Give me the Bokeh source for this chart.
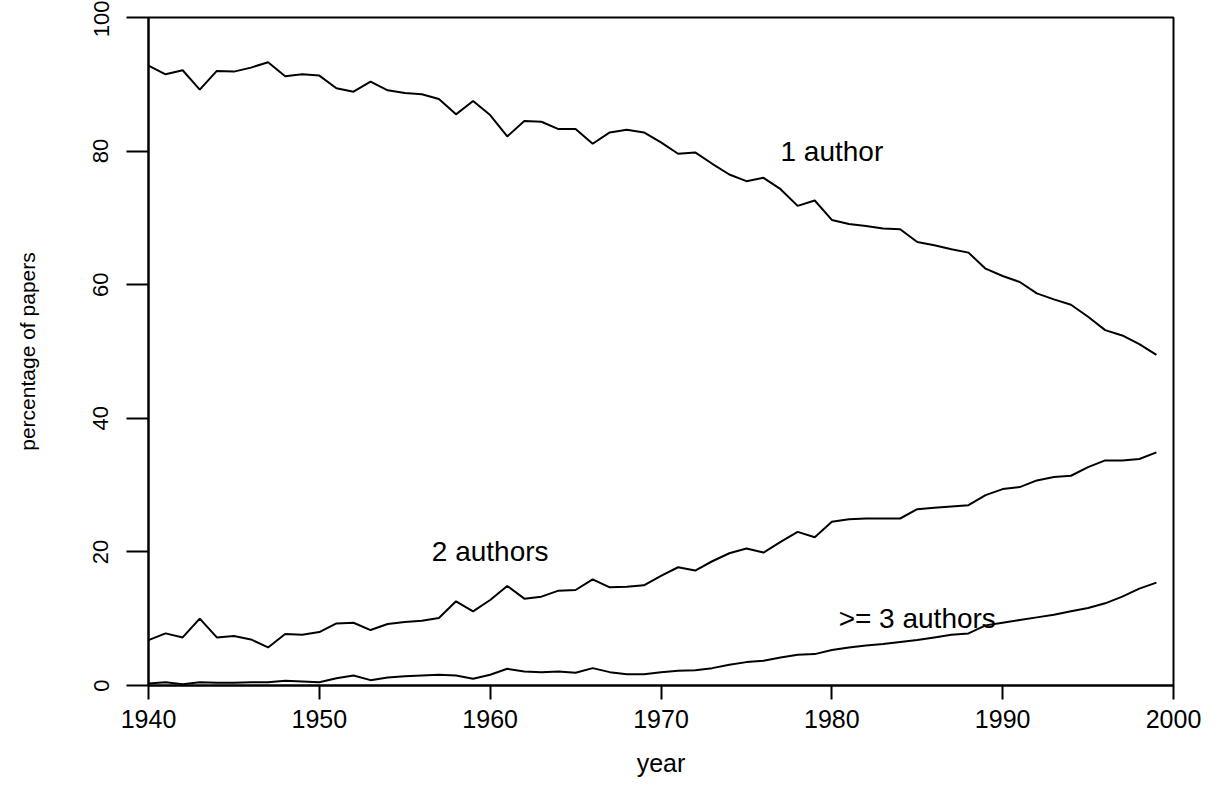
from bokeh.plotting import figure
from bokeh.models import FixedTicker, Range1d, ColumnDataSource
from bokeh.embed import file_html
from bokeh.resources import INLINE
from bokeh.core.properties import value

years = list(range(1940, 2000))
one_author = [92.8, 91.5, 92.1, 89.2, 92.0, 91.9, 92.5, 93.3, 91.2, 91.5,
              91.3, 89.4, 88.9, 90.4, 89.1, 88.7, 88.5, 87.8, 85.5, 87.5,
              85.4, 82.2, 84.5, 84.4, 83.3, 83.3, 81.1, 82.8, 83.2, 82.8,
              81.3, 79.6, 79.8, 78.1, 76.5, 75.5, 76.0, 74.3, 71.8, 72.6,
              69.7, 69.1, 68.8, 68.4, 68.3, 66.4, 65.9, 65.3, 64.8, 62.4,
              61.3, 60.4, 58.7, 57.8, 57.0, 55.2, 53.2, 52.4, 51.1, 49.5]
two_authors = [6.8, 7.8, 7.2, 10.0, 7.2, 7.4, 6.9, 5.7, 7.7, 7.6,
               8.0, 9.3, 9.4, 8.3, 9.2, 9.5, 9.7, 10.1, 12.6, 11.1,
               12.8, 14.9, 13.0, 13.3, 14.2, 14.3, 15.9, 14.7, 14.8, 15.0,
               16.4, 17.7, 17.2, 18.6, 19.8, 20.5, 19.9, 21.5, 23.0, 22.2,
               24.5, 24.9, 25.0, 25.0, 25.0, 26.4, 26.6, 26.8, 27.0, 28.5,
               29.4, 29.7, 30.7, 31.2, 31.4, 32.7, 33.7, 33.7, 33.9, 34.9]
three_plus = [0.3, 0.5, 0.2, 0.5, 0.4, 0.4, 0.5, 0.5, 0.7, 0.6,
              0.5, 1.1, 1.5, 0.8, 1.2, 1.4, 1.5, 1.6, 1.5, 1.0,
              1.6, 2.5, 2.1, 2.0, 2.1, 1.9, 2.6, 2.0, 1.7, 1.7,
              2.0, 2.2, 2.3, 2.6, 3.1, 3.5, 3.7, 4.2, 4.6, 4.7,
              5.3, 5.7, 6.0, 6.2, 6.5, 6.8, 7.2, 7.6, 7.8, 9.0,
              9.4, 9.8, 10.2, 10.6, 11.1, 11.6, 12.3, 13.3, 14.5, 15.4]

label_text = ["1 author", "2 authors", ">= 3 authors"]
label_x = [1980, 1960, 1985]
label_y = [80, 20, 10]

x_ticks = [1940, 1950, 1960, 1970, 1980, 1990, 2000]
y_ticks = [0, 20, 40, 60, 80, 100]

FONT = "Liberation Sans"

p = figure(width=1203, height=779, output_backend="svg", toolbar_location=None,
           x_range=Range1d(1940, 2000), y_range=Range1d(0, 100),
           min_border_left=148, min_border_right=30,
           min_border_top=17, min_border_bottom=93)
p.background_fill_color = "white"
p.border_fill_color = "white"
p.outline_line_color = "black"
p.outline_line_width = 2
p.outline_line_alpha = 1.0
p.grid.visible = False

for ax in (p.xaxis[0], p.yaxis[0]):
    ax.axis_line_color = "black"
    ax.axis_line_width = 2
    ax.major_tick_line_color = "black"
    ax.major_tick_line_width = 2
    ax.major_tick_in = 0
    ax.minor_tick_line_color = None
    ax.major_label_text_color = "black"
    ax.major_label_text_font = FONT
    ax.axis_label_text_color = "black"
    ax.axis_label_text_font = FONT
    ax.axis_label_text_font_style = "normal"

xa = p.xaxis[0]
xa.ticker = FixedTicker(ticks=x_ticks)
xa.major_tick_out = 14
xa.major_label_text_font_size = "25px"
xa.major_label_standoff = 10
xa.axis_label = "year"
xa.axis_label_text_font_size = "25px"
xa.axis_label_standoff = 18

ya = p.yaxis[0]
ya.ticker = FixedTicker(ticks=y_ticks)
ya.major_tick_out = 22
ya.major_label_text_font_size = "22px"
ya.major_label_orientation = "vertical"
ya.major_label_standoff = 18
ya.axis_label = "percentage of papers"
ya.axis_label_text_font_size = "21px"
ya.axis_label_standoff = 52

for series in (one_author, two_authors, three_plus):
    p.line(years, series, line_color="black", line_width=2)

src = ColumnDataSource(dict(x=label_x, y=label_y, t=label_text))
p.text(x="x", y="y", text="t", source=src, text_align="center",
       text_baseline="middle", text_font=value(FONT), text_font_size="28px",
       text_color="black")

open("out.html", "w").write(file_html(p, INLINE))
